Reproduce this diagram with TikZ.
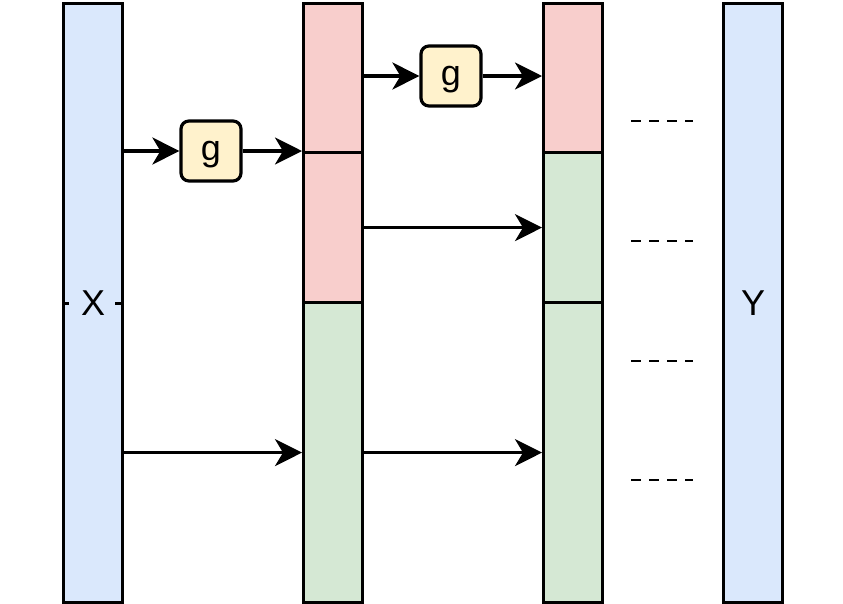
\documentclass[tikz,border=0pt]{standalone}
\usepackage{fontspec}
\setmainfont{Liberation Sans}
\usetikzlibrary{arrows.meta}
\definecolor{cblue}{HTML}{DAE8FC}
\definecolor{cred}{HTML}{F8CECC}
\definecolor{cgreen}{HTML}{D5E8D4}
\definecolor{cyel}{HTML}{FFF2CC}
\begin{document}
\begin{tikzpicture}[x=1pt,y=-1pt,
  seg/.style={draw,line width=3.2pt,minimum width=59pt,inner sep=0pt,anchor=north west},
  lbl/.style={font=\fontsize{36}{38}\selectfont},
  gbox/.style={draw,line width=3.2pt,fill=cyel,rounded corners=8pt,minimum width=60pt,minimum height=60pt,inner sep=0pt,text depth=0pt,lbl},
  arr/.style={line width=3.2pt,-{Stealth[length=27pt,width=27pt,inset=8pt]}},
  dots/.style={line width=2.8pt,dash pattern=on 10pt off 8pt}]
\useasboundingbox (0,0) rectangle (843,603);
% X and Y
\node[seg,fill=cblue,minimum height=599pt] (X) at (62,2) {};
\node[seg,fill=cblue,minimum height=599pt] (Y) at (722,2) {};
\draw[line width=2.8pt,dash pattern=on 7pt off 6pt] (X.west) -- (X.east);
\node[fill=cblue,inner xsep=10pt,inner ysep=2pt,lbl] (Xl) at (X.center) {X};
\node[lbl] (Yl) at (Y.center) {Y};
% bar 2
\node[seg,fill=cred,minimum height=149pt] (b2a) at (302,2) {};
\node[seg,fill=cred,minimum height=150pt] (b2b) at (302,151) {};
\node[seg,fill=cgreen,minimum height=300pt] (b2c) at (302,301) {};
% bar 3
\node[seg,fill=cred,minimum height=149pt] (b3a) at (542,2) {};
\node[seg,fill=cgreen,minimum height=150pt] (b3b) at (542,151) {};
\node[seg,fill=cgreen,minimum height=300pt] (b3c) at (542,301) {};
% g boxes
\node[gbox] (g1) at (211,151) {g};
\node[gbox] (g2) at (451,76) {g};
% arrows
\draw[arr] (X.east |- g1.west) -- (g1.west);
\draw[arr] (g1.east) -- (b2b.north west);
\draw[arr] (b2a.east |- g2.west) -- (g2.west);
\draw[arr] (g2.east) -- (b3a.west |- g2.east);
\draw[arr] (b2b.east) -- (b3b.west);
\draw[arr] (X.east |- b2c.west) -- (b2c.west);
\draw[arr] (b2c.east) -- (b3c.west);
% dashes
\coordinate (d1a) at (631,121); \coordinate (d1b) at (693,121);
\coordinate (d2a) at (631,241); \coordinate (d2b) at (693,241);
\coordinate (d3a) at (631,361); \coordinate (d3b) at (693,361);
\coordinate (d4a) at (631,480); \coordinate (d4b) at (693,480);
\draw[dots] (d1a) -- (d1b);
\draw[dots] (d2a) -- (d2b);
\draw[dots] (d3a) -- (d3b);
\draw[dots] (d4a) -- (d4b);
\end{tikzpicture}
\end{document}
